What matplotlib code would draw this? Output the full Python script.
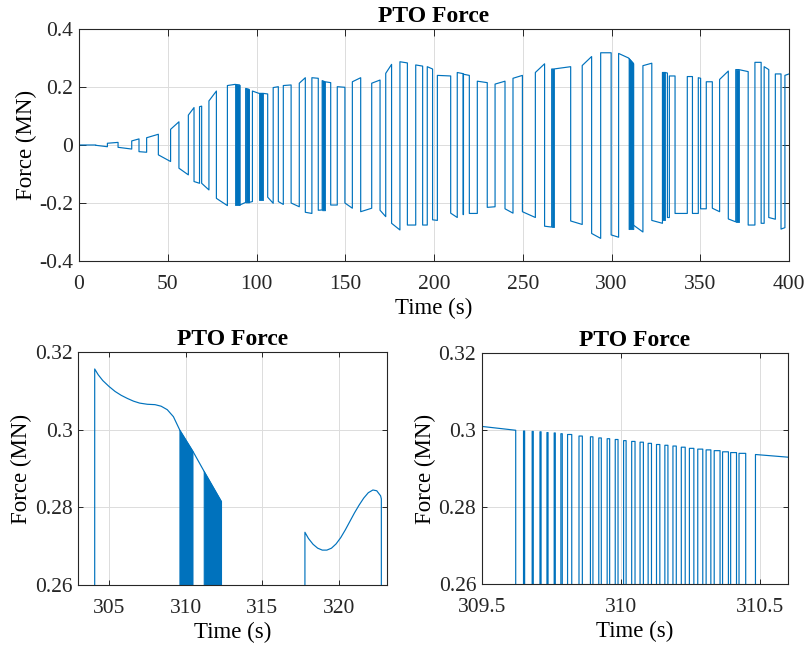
import numpy as np
import matplotlib
matplotlib.use('Agg')
import matplotlib.pyplot as plt

plt.rcParams['font.family'] = 'Liberation Serif'
plt.rcParams['axes.unicode_minus'] = False

blue = '#0072BD'

# ---- top panel: force plateaus (start time, value at start, value at end) ----
sw_t = [0, 9.4, 16, 22, 29.7, 33.8, 38.1, 44.7, 51.6, 56.3, 61.6, 64.8, 67.9, 69.1,
        73.2, 77.4, 83.6, 87.9, 90.5, 93.9, 95.8, 97.7, 101.4, 103.7, 106.3, 109.4,
        112.3, 115.1, 119.5, 124.1, 127.5, 131.2, 134.8, 137.0, 138.6, 141.8, 145.5,
        149.8, 154.0, 158.7, 164.9, 169.6, 172.8, 176.1, 180.8, 185.0, 189.7, 193.6,
        196.2, 199.2, 201.9, 209.4, 213.1, 216.4, 216.6, 219.9, 224.4, 230.0, 234.4,
        240.0, 244.5, 249.8, 257.1, 262.3, 266.3, 267.4, 277.0, 283.5, 288.8, 293.9,
        299.8, 304.0, 309.6, 312.3, 317.7, 322.7, 328.7, 330.3, 331.5, 332.6, 335.8,
        342.7, 345.6, 348.9, 350.2, 353.4, 356.8, 360.9, 365.8, 370.0, 371.7, 377.0,
        380.8, 384.3, 386.0, 388.6, 392.3, 395.5, 397.7]
lvl_a = [0, -0.001, 0.006, -0.008, 0.014, -0.023, 0.025, -0.034, 0.054, -0.080, 0.103, -0.126, 0.132, -0.132,
         0.152, -0.184, 0.205, 0.209, -0.207, 0.195, -0.198, 0.186, 0.178, 0.178, -0.180, 0.198,
         -0.195, 0.205, -0.200, 0.213, -0.232, 0.232, -0.225, 0.222, 0.218, -0.207, 0.201,
         -0.200, 0.218, -0.230, 0.213, -0.225, 0.247, -0.270, 0.287, -0.276, 0.276, -0.276,
         0.270, -0.258, 0.240, -0.235, 0.250, -0.240, 0.244, -0.236, 0.220, -0.215, 0.210,
         -0.220, 0.230, -0.230, 0.250, -0.280, 0.262, 0.262, -0.262, 0.274, -0.305, 0.318,
         -0.310, 0.3157, 0.300, -0.276, 0.2735, -0.260, 0.250, 0.250, -0.250, 0.238, -0.236,
         0.236, -0.236, 0.232, -0.220, 0.218, -0.218, 0.226, -0.255, 0.260, 0.260, -0.276,
         0.285, -0.270, 0.270, -0.250, 0.245, -0.290, 0.240]
lvl_b = [0, -0.006, 0.009, -0.014, 0.021, -0.025, 0.037, -0.057, 0.080, -0.103, 0.129, -0.132, 0.134, -0.155,
         0.186, -0.209, 0.209, 0.207, -0.198, 0.192, -0.195, 0.178, 0.178, 0.176, -0.201, 0.201,
         -0.205, 0.207, -0.213, 0.232, -0.236, 0.230, -0.224, 0.218, 0.215, -0.207, 0.199,
         -0.218, 0.232, -0.218, 0.224, -0.247, 0.278, -0.293, 0.283, -0.276, 0.272, -0.276,
         0.262, -0.260, 0.238, -0.250, 0.246, -0.240, 0.240, -0.236, 0.215, -0.213, 0.220,
         -0.235, 0.240, -0.250, 0.280, -0.283, 0.262, 0.270, -0.274, 0.305, -0.322, 0.318,
         -0.318, 0.300, 0.2815, -0.300, 0.282, -0.270, 0.250, 0.248, -0.250, 0.238, -0.236,
         0.236, -0.236, 0.230, -0.220, 0.218, -0.230, 0.255, -0.265, 0.260, 0.253, -0.276,
         0.285, -0.270, 0.260, -0.256, 0.245, -0.285, 0.245]
t_end = 400

# fast switching (chattering) windows
band_t0 = [87.9, 93.9, 101.4, 137.0, 266.3, 309.6, 328.7, 370.0]
band_t1 = [90.5, 95.8, 103.7, 138.6, 267.4, 312.3, 330.3, 371.7]
band_top0 = [0.209, 0.195, 0.178, 0.222, 0.262, 0.300, 0.250, 0.260]
band_top1 = [0.207, 0.192, 0.178, 0.218, 0.262, 0.2815, 0.250, 0.260]
band_bot = [-0.207, -0.198, -0.190, -0.225, -0.283, -0.290, -0.260, -0.265]

# ---- bottom left: zoom 303-323 s ----
bl_t = [303.0, 304.07, 304.07, 304.3, 304.6, 305.0, 305.4, 305.8, 306.2, 306.6, 307.0,
        307.5, 308.0, 308.4, 308.8, 309.2, 309.62, 310.48, 311.2, 312.33, 312.33,
        317.77, 317.77, 318.0, 318.3, 318.6, 318.9, 319.2, 319.5, 319.8, 320.1, 320.4,
        320.7, 321.0, 321.3, 321.6, 321.9, 322.2, 322.45, 322.7, 322.75, 322.75, 323.5]
bl_f = [-0.31, -0.31, 0.3157, 0.3142, 0.3127, 0.3112, 0.3099, 0.3089, 0.3081, 0.3074, 0.3069,
        0.3066, 0.3065, 0.3061, 0.3052, 0.3034, 0.2999, 0.2944, 0.2893, 0.2815, -0.28,
        -0.29, 0.2736, 0.2720, 0.2705, 0.2695, 0.2690, 0.2690, 0.2695, 0.2706, 0.2722, 0.2742,
        0.2764, 0.2786, 0.2806, 0.2824, 0.2838, 0.2845, 0.2843, 0.2830, 0.2822, -0.26, -0.26]
bl_band_t0 = [309.62, 311.2]
bl_band_t1 = [310.48, 312.33]
bl_band_f0 = [0.2999, 0.2893]
bl_band_f1 = [0.2944, 0.2815]

# ---- bottom right: zoom 309.5-310.6 s ----
pulse_on = [309.650, 309.681, 309.709, 309.734, 309.760, 309.784, 309.808, 309.849, 309.890,
            309.920, 309.950, 309.979, 310.009, 310.038, 310.068, 310.097, 310.127, 310.157,
            310.186, 310.216, 310.245, 310.275, 310.305, 310.334, 310.364, 310.393, 310.423]
pulse_off = [309.654, 309.685, 309.713, 309.738, 309.764, 309.789, 309.823, 309.861, 309.899,
             309.929, 309.959, 309.989, 310.018, 310.050, 310.080, 310.109, 310.139, 310.168,
             310.198, 310.230, 310.261, 310.293, 310.322, 310.355, 310.385, 310.414, 310.447]
pulse_f = [0.2998, 0.2997, 0.2996, 0.2994, 0.2993, 0.2991, 0.2989, 0.2985, 0.2983,
           0.2980, 0.2978, 0.2976, 0.2973, 0.2971, 0.2969, 0.2966, 0.2963, 0.2961,
           0.2959, 0.2956, 0.2953, 0.2951, 0.2949, 0.2947, 0.2944, 0.2942, 0.2940]
br_start_t = [309.5, 309.622]
br_start_f = [0.3010, 0.3000]
br_end_t = [310.482, 310.6]
br_end_f = [0.2937, 0.2930]
f_low = -0.29


def style(ax, ticklen):
    ax.grid(True, color='#dcdcdc', lw=0.7)
    ax.set_axisbelow(True)
    ax.tick_params(direction='in', top=True, right=True, length=ticklen, width=0.7,
                   labelsize=15.5, colors='#262626')
    ax.tick_params(axis='x', pad=10)
    ax.tick_params(axis='y', pad=4)
    for s in ax.spines.values():
        s.set_color('#262626')
        s.set_linewidth(0.8)
    ax.set_title('PTO Force', fontsize=17, fontweight='bold', pad=5)
    ax.set_xlabel('Time (s)', fontsize=16.5, labelpad=3)
    ax.set_ylabel('Force (MN)', fontsize=16.5, labelpad=2)


fig = plt.figure(figsize=(8.07, 6.47), dpi=100)
ax1 = fig.add_axes([0.0979, 0.5966, 0.8798, 0.3586])
ax2 = fig.add_axes([0.0970, 0.0958, 0.3822, 0.3597])
ax3 = fig.add_axes([0.5969, 0.0970, 0.3800, 0.3570])

# top: build the stepped line from the plateaus
xs, ys = [], []
for i in range(len(sw_t)):
    t1 = sw_t[i + 1] if i + 1 < len(sw_t) else t_end
    xs += [sw_t[i], t1]
    ys += [lvl_a[i], lvl_b[i]]
ax1.plot(xs, ys, color=blue, lw=0.85)
for i in range(len(band_t0)):
    ax1.fill_between([band_t0[i], band_t1[i]], [band_bot[i]] * 2, [band_top0[i], band_top1[i]],
                     color=blue, lw=0.6, edgecolor=blue)
ax1.set_xlim(0, 400)
ax1.set_ylim(-0.4, 0.4)
ax1.set_xticks(np.arange(0, 401, 50))
ax1.set_yticks([-0.4, -0.2, 0, 0.2, 0.4])
ax1.set_yticklabels(['-0.4', '-0.2', '0', '0.2', '0.4'])
style(ax1, 5)

# bottom left
ax2.plot(bl_t, bl_f, color=blue, lw=0.85)
for i in range(len(bl_band_t0)):
    ax2.fill_between([bl_band_t0[i], bl_band_t1[i]], [f_low] * 2, [bl_band_f0[i], bl_band_f1[i]],
                     color=blue, lw=0.6, edgecolor=blue)
ax2.set_xlim(303.0, 323.1)
ax2.set_ylim(0.26, 0.32)
ax2.set_xticks([305, 310, 315, 320])
ax2.set_yticks([0.26, 0.28, 0.30, 0.32])
ax2.set_yticklabels(['0.26', '0.28', '0.3', '0.32'])
style(ax2, 3.5)

# bottom right: individual switching pulses
rx = list(br_start_t) + [br_start_t[-1]]
ry = list(br_start_f) + [f_low]
for r, d, f in zip(pulse_on, pulse_off, pulse_f):
    rx += [r, r, d, d]
    ry += [f_low, f, f, f_low]
rx += [br_end_t[0]] + list(br_end_t)
ry += [f_low] + list(br_end_f)
ax3.plot(rx, ry, color=blue, lw=0.85)
ax3.set_xlim(309.5, 310.6)
ax3.set_ylim(0.26, 0.32)
ax3.set_xticks([309.5, 310, 310.5])
ax3.set_xticklabels(['309.5', '310', '310.5'])
ax3.set_yticks([0.26, 0.28, 0.30, 0.32])
ax3.set_yticklabels(['0.26', '0.28', '0.3', '0.32'])
style(ax3, 3.5)

plt.savefig('out.png', dpi=100)
